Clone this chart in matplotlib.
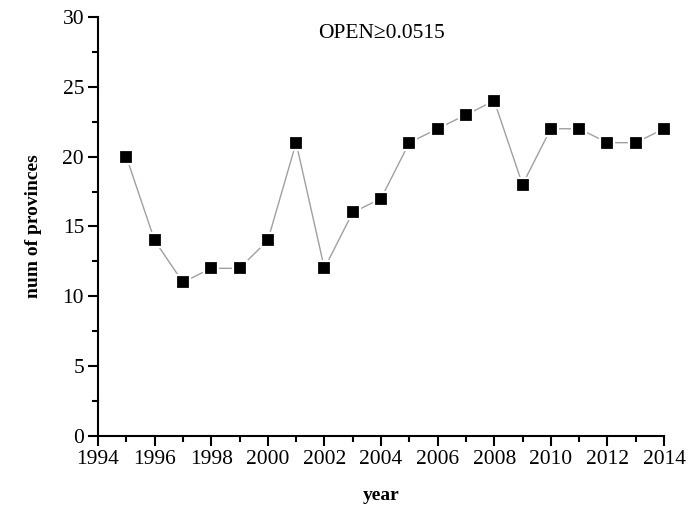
import matplotlib
matplotlib.use("Agg")
import matplotlib.pyplot as plt
from matplotlib.ticker import MultipleLocator

years = [1995, 1996, 1997, 1998, 1999, 2000, 2001, 2002, 2003, 2004,
         2005, 2006, 2007, 2008, 2009, 2010, 2011, 2012, 2013, 2014]
provinces = [20, 14, 11, 12, 12, 14, 21, 12, 16, 17,
             21, 22, 23, 24, 18, 22, 22, 21, 21, 22]
label = "OPEN\u2265" + "0.0515"

plt.rcParams["font.family"] = ["Liberation Serif", "DejaVu Serif"]

fig = plt.figure(figsize=(7, 5.17), dpi=100)
ax = fig.add_axes([0.14, 0.157, 0.8086, 0.81])

ax.plot(years, provinces, color="#a0a0a0", lw=1.0, marker="s", markersize=10,
        markerfacecolor="black", markeredgecolor="white", markeredgewidth=1.6,
        clip_on=False, zorder=3)

ax.set_xlim(1994, 2014)
ax.set_ylim(0, 30)
ax.xaxis.set_major_locator(MultipleLocator(2))
ax.xaxis.set_minor_locator(MultipleLocator(1))
ax.yaxis.set_major_locator(MultipleLocator(5))
ax.yaxis.set_minor_locator(MultipleLocator(2.5))
ax.tick_params(which="major", direction="out", length=7, width=1.5, labelsize=15.5, pad=3)
ax.tick_params(which="minor", direction="out", length=4, width=1.5)

for side in ["top", "right"]:
    ax.spines[side].set_visible(False)
for side in ["left", "bottom"]:
    ax.spines[side].set_linewidth(1.5)

ax.set_xlabel("year", fontsize=14, fontweight="bold", labelpad=13)
ax.set_ylabel("num of provinces", fontsize=14, fontweight="bold", labelpad=15)
ax.text(0.5, 0.96, label, transform=ax.transAxes, ha="center", va="center",
        fontsize=15.5)

fig.savefig("out.png", dpi=100)
